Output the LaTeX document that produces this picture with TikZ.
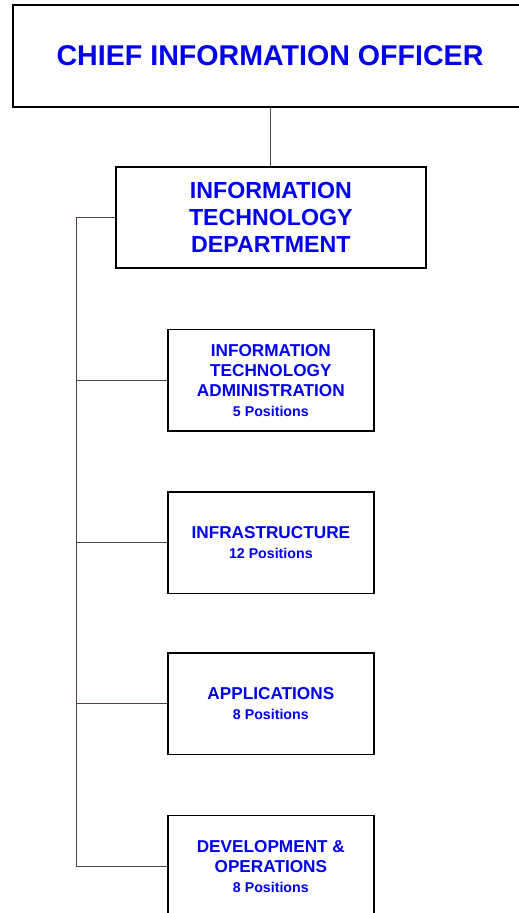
\documentclass[tikz,border=0pt]{standalone}
\usepackage{fontspec}
\setmainfont{Liberation Sans}
\definecolor{ocblue}{RGB}{0,0,235}
\definecolor{ocline}{RGB}{80,64,80}
\providecommand{\ocColorText}{ocblue}
\providecommand{\ocColorBlock}{white}
\providecommand{\ocStroke}{black}
\providecommand{\ocPos}[1]{{\fontsize{14.2}{20}\selectfont #1}}
\usetikzlibrary{calc}
\tikzset{
  blk/.style 2 args={draw=\ocStroke,line width=1.5pt,fill=\ocColorBlock,minimum width=#1,minimum height=#2,align=center,text=\ocColorText},
  topfont/.style={font=\fontsize{28.6}{34}\selectfont\bfseries},
  deptfont/.style={font=\fontsize{23.2}{27}\selectfont\bfseries},
  unitfont/.style={font=\fontsize{17.2}{20}\selectfont\bfseries},
  conn/.style={draw=ocline,line width=0.9pt},
}
\begin{document}
\begin{tikzpicture}
  \useasboundingbox (0,0) rectangle (18.21cm,-32.09cm);
% --- Primitive nodes -------------------------------------------------------

  \node[blk={18.07cm}{3.58cm},topfont] (cio) at (9.49cm,-1.97cm) {CHIEF INFORMATION OFFICER};

  \node[blk={10.90cm}{3.55cm},deptfont] (itdept) at (9.52cm,-7.64cm) {INFORMATION\\TECHNOLOGY\\DEPARTMENT};

  \node[blk={7.24cm}{3.57cm},unitfont] (itadmin) at (9.52cm,-13.36cm) {INFORMATION\\TECHNOLOGY\\ADMINISTRATION\\\ocPos{5 Positions}};

  \node[blk={7.24cm}{3.57cm},unitfont] (infra) at (9.52cm,-19.07cm) {INFRASTRUCTURE\\\ocPos{12 Positions}};

  \node[blk={7.24cm}{3.57cm},unitfont] (apps) at (9.52cm,-24.73cm) {APPLICATIONS\\\ocPos{8 Positions}};

  \node[blk={7.24cm}{3.57cm},unitfont] (devops) at (9.52cm,-30.44cm) {DEVELOPMENT \&\\OPERATIONS\\\ocPos{8 Positions}};

% --- Edges -----------------------------------------------------------------

  \path[conn] (itdept.north |- cio.south) -- (itdept.north);

  \path[conn] (itdept.west) -- ++(-1.34cm,0.00cm) |- (itadmin.west);

  \path[conn] (itdept.west) -- ++(-1.34cm,0.00cm) |- (infra.west);

  \path[conn] (itdept.west) -- ++(-1.34cm,0.00cm) |- (apps.west);

  \path[conn] (itdept.west) -- ++(-1.34cm,0.00cm) |- (devops.west);

\end{tikzpicture}
\end{document}
